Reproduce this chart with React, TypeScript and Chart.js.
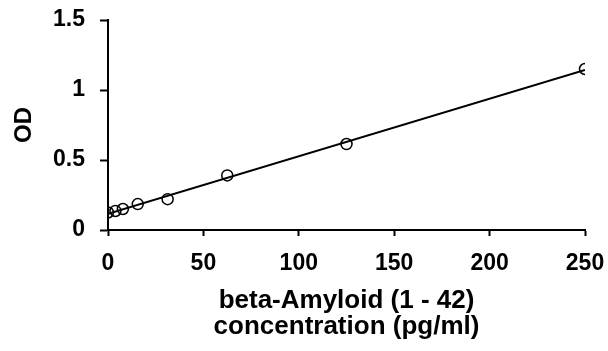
import React, { useEffect, useRef } from "react";
import { Chart, registerables } from "chart.js";

Chart.register(...registerables);

const concentrations = [0, 3.9, 7.8, 15.6, 31.25, 62.5, 125, 250];
const odValues = [0.125, 0.136, 0.15, 0.185, 0.22, 0.39, 0.614, 1.15];
const xTitle = ["beta-Amyloid (1 - 42)", "concentration (pg/ml)"];
const yTitle = "OD";

function linearFit(xs: number[], ys: number[]) {
  const n = xs.length;
  const mx = xs.reduce((a, b) => a + b, 0) / n;
  const my = ys.reduce((a, b) => a + b, 0) / n;
  let sxx = 0;
  let sxy = 0;
  for (let i = 0; i < n; i++) {
    sxx += (xs[i] - mx) * (xs[i] - mx);
    sxy += (xs[i] - mx) * (ys[i] - my);
  }
  const slope = sxy / sxx;
  return { slope, intercept: my - slope * mx };
}

export default function App() {
  const ref = useRef<HTMLCanvasElement | null>(null);

  useEffect(() => {
    if (!ref.current) return;
    const fit = linearFit(concentrations, odValues);
    const xMin = concentrations[0];
    const xMax = concentrations[concentrations.length - 1];
    const font = "'Liberation Sans', Arial, sans-serif";
    const chart = new Chart(ref.current, {
      type: "scatter",
      data: {
        datasets: [
          {
            label: "trend",
            data: [
              { x: xMin, y: fit.intercept + fit.slope * xMin },
              { x: xMax, y: fit.intercept + fit.slope * xMax },
            ],
            showLine: true,
            borderColor: "#000",
            borderWidth: 2,
            pointRadius: 0,
            fill: false,
          },
          {
            label: "points",
            data: concentrations.map((x, i) => ({ x, y: odValues[i] })),
            pointRadius: 5.5,
            pointBorderWidth: 1.5,
            pointBorderColor: "#000",
            pointBackgroundColor: "rgba(255,255,255,0)",
            showLine: false,
          },
        ],
      },
      options: {
        animation: false,
        responsive: false,
        maintainAspectRatio: false,
        layout: { padding: { top: 20, right: 23, left: 0, bottom: 0 } },
        plugins: {
          legend: { display: false },
          tooltip: { enabled: false },
        },
        scales: {
          x: {
            type: "linear",
            min: 0,
            max: 250,
            ticks: {
              stepSize: 50,
              color: "#000",
              padding: 14,
              font: { family: font, size: 23, weight: "bold" },
              callback: (v: any) => String(v),
            },
            grid: {
              display: true,
              drawOnChartArea: false,
              drawTicks: true,
              tickLength: 6,
              tickColor: "#000",
              tickWidth: 2,
            },
            border: { display: true, color: "#000", width: 2 },
            title: {
              display: true,
              text: xTitle,
              color: "#000",
              font: { family: font, size: 26, weight: "bold", lineHeight: 1.0 },
              padding: { top: 0, bottom: 11 },
            },
            afterFit: (scale: any) => {
              scale.height = 121;
              scale.paddingLeft = 0;
              scale.paddingRight = 0;
            },
          },
          y: {
            type: "linear",
            min: 0,
            max: 1.5,
            ticks: {
              stepSize: 0.5,
              color: "#000",
              padding: 15,
              font: { family: font, size: 23, weight: "bold" },
              callback: (v: any) => String(v),
            },
            grid: {
              display: true,
              drawOnChartArea: false,
              drawTicks: true,
              tickLength: 8,
              tickColor: "#000",
              tickWidth: 2,
            },
            border: { display: true, color: "#000", width: 2 },
            title: {
              display: true,
              text: yTitle,
              color: "#000",
              font: { family: font, size: 24, weight: "bold", lineHeight: 1.2 },
              padding: { top: 10, bottom: 0 },
            },
            afterFit: (scale: any) => {
              scale.width = 108;
              scale.paddingTop = 0;
              scale.paddingBottom = 0;
            },
          },
        },
      },
    });
    return () => chart.destroy();
  }, []);

  return (
    <div style={{ position: "fixed", left: 0, top: 0, width: 608, height: 351, background: "#fff" }}>
      <canvas ref={ref} width={608} height={351} style={{ width: 608, height: 351 }} />
    </div>
  );
}
